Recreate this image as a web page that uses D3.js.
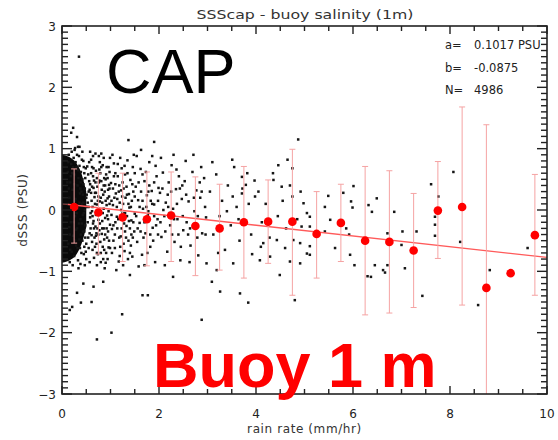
<!DOCTYPE html>
<html><head><meta charset="utf-8">
<script src="https://cdn.jsdelivr.net/npm/d3@7"></script>
<style>html,body{margin:0;padding:0;background:#fff}svg{display:block}</style>
</head><body>
<script>
// ---------- data ----------
const titleText = "SSScap - buoy salinity (1m)";
const xLabel = "rain rate (mm/hr)";
const yLabel = "dSSS (PSU)";
const xTicks = [0, 2, 4, 6, 8, 10];
const yTicks = [-3, -2, -1, 0, 1, 2, 3];
const statLabels = ["a=", "b=", "N="];
const statValues = ["0.1017 PSU", "-0.0875", "4986"];
const fitA = 0.1017, fitB = -0.0875;

const binCenters = [0.25,0.75,1.25,1.75,2.25,2.75,3.25,3.75,4.25,4.75,5.25,5.75,6.25,6.75,7.25,7.75,8.25,8.75,9.25,9.75];
const binMeans   = [0.05,-0.04,-0.12,-0.15,-0.09,-0.26,-0.30,-0.20,-0.19,-0.19,-0.39,-0.21,-0.50,-0.52,-0.66,-0.01,0.05,-1.27,-1.03,-0.41];
const errUpper   = [0.67,0.60,0.60,0.62,0.62,0.54,0.42,0.71,0.49,0.99,0.30,0.42,0.71,0.64,0.27,0.79,1.68,1.39,null,0.58];
const errLower   = [-0.54,-0.72,-0.84,-0.91,-0.84,-1.07,-0.98,-1.11,-0.87,-1.39,-1.11,-0.84,-1.71,-1.68,-1.59,-0.79,-1.55,-3.93,null,-1.39];

// solid black core of the scatter cloud (near zero rain)
const coreX      = [0, 0.1, 0.2, 0.3, 0.4, 0.5];
const coreTop    = [0.9, 0.88, 0.84, 0.76, 0.6, 0.3];
const coreBottom = [-0.86, -0.84, -0.8, -0.72, -0.56, -0.28];

// individual scatter points [rain rate, dSSS]
const scatterPts = [
[0.35,2.50],[0.23,1.34],[0.19,1.26],[0.31,1.19],[0.33,1.03],[0.27,1.01],[0.21,-1.58],[0.31,-1.35],[0.16,-1.63],[0.72,-2.11],[1.02,-2.0],
[1.37,1.14],[1.90,1.11],[1.63,0.98],[0.36,1.03],[3.51,0.82],[4.87,1.15],[4.65,0.82],[4.46,0.73],[4.75,0.68],[3.71,0.54],[3.71,0.27],[3.79,0.41],
[3.98,0.22],[4.36,0.49],[4.53,0.38],[4.75,0.22],[4.98,0.11],[5.05,-0.05],[4.94,-0.27],[5.05,-0.71],[4.80,-1.47],[4.49,-1.06],[3.84,-1.51],
[2.88,-1.79],[1.24,-1.70],[1.66,-1.39],[1.77,-1.39],[0.61,-1.50],[0.39,-1.51],[1.40,-1.06],[2.29,-1.09],[3.09,-1.17],[3.26,-1.33],[3.67,-1.36],
[0.44,-1.20],[0.65,-1.25],[0.85,-1.17],[2.98,-0.87],[3.19,-0.98],[3.53,-0.87],[4.08,-0.82],[4.29,-0.76],[4.70,-0.84],[4.91,-0.87],[4.15,-0.54],
[4.43,-0.49],[4.77,-0.49],[4.91,-0.54],
[8.07,0.62],[7.61,0.42],[7.76,0.22],[7.69,-0.11],[7.69,-0.24],[7.69,-0.42],[8.21,-0.52],[8.58,-1.55],[8.82,-0.98],[9.60,-0.62],[7.43,-1.40],
[7.02,-0.35],[6.85,-0.03],[6.71,-0.38],[6.71,-0.90],[6.66,-1.02],[6.62,-0.98],[6.45,-0.90],[6.37,-1.09],[6.30,-1.08],[6.39,-0.03],[6.49,0.19],
[6.32,0.08],[6.01,0.39],[5.96,0.14],[5.99,0.04],[5.86,-0.30],[5.92,-0.40],[5.94,-0.73],[6.03,-0.90],[5.63,-0.62],[5.49,0.23],[5.42,0.05],
[5.53,-0.16],[5.42,-0.35],[5.11,-0.27],[5.11,-0.11],[5.11,-0.59],[5.11,-0.73],[5.80,0.28],[7.00,-0.57],[7.07,-0.95],[7.31,-0.35],
[0.12,0.62],[0.13,-0.55],[0.14,0.9],[0.15,0.2],[0.16,-0.85],[0.17,0.45],[0.18,-0.2],[0.19,0.75],[0.2,-0.68],[0.21,0.05],[0.22,0.33],[0.23,-0.42],
[0.24,0.85],[0.25,-0.75],[0.26,0.58],[0.27,-0.1],[0.28,0.18],[0.29,-0.58],[0.3,0.7],[0.31,-0.3],[0.32,0.4],[0.33,-0.82],[0.34,0.02],[0.35,0.88],
[0.36,-0.48],[0.37,0.27],[0.38,-0.15],[0.39,0.62],[0.4,-0.7],[0.41,0.1],[0.42,0.5],[0.43,-0.35],[0.44,0.8],[0.45,-0.05],[0.46,-0.6],[0.47,0.35],
[0.48,-0.25],[0.49,0.68],[0.5,-0.8],[0.12,-0.1],[0.14,0.35],[0.16,-0.4],[0.18,0.55],[0.2,0.95],[0.22,-0.9],[0.24,-0.2],[0.26,0.15],[0.28,0.78],
[0.3,-0.05],[0.32,-0.62],[0.34,0.52],[0.36,0.72],[0.38,-0.88],[0.4,0.3],[0.42,-0.5],[0.44,0.12],[0.46,0.6],[0.48,-0.45],[0.5,0.2],[0.13,0.78],
[0.17,-0.65],[0.21,0.6],[0.25,0.42],[0.29,-0.32],[0.33,0.65],[0.37,-0.62],[0.41,0.82],[0.45,-0.72],[0.49,0.05],[0.15,-0.28],[0.19,0.08],[0.23,0.7],
[0.27,-0.5],[0.31,0.9],[0.35,-0.22],[0.39,0.45],[0.43,-0.08],[0.47,-0.9],[0.11,0.45],[0.26,0.98],[0.34,-0.95],[0.42,0.95],
[0.36,0.12],[0.38,0.35],[0.41,-0.22],[0.44,0.42],[0.46,-0.35],[0.48,0.52],[0.5,-0.55],[0.39,-0.4],[0.43,0.25],[0.47,0.0],[0.45,0.7],[0.49,-0.68],
[0.52,0.71],[0.55,-0.62],[0.57,0.33],[0.58,-0.12],[0.6,0.82],[0.61,-0.41],[0.63,0.05],[0.64,0.55],[0.66,-0.78],[0.67,0.21],[0.69,-0.27],[0.7,0.64],
[0.71,-0.55],[0.73,0.38],[0.74,-0.05],[0.76,0.88],[0.77,-0.33],[0.78,0.14],[0.8,-0.7],[0.81,0.47],[0.83,-0.18],[0.84,0.73],[0.86,0.02],[0.87,-0.48],
[0.88,0.3],[0.9,-0.86],[0.91,0.58],[0.93,-0.09],[0.94,0.19],[0.96,-0.61],[0.97,0.41],[0.99,-0.24],[0.53,0.12],[0.56,0.47],[0.59,-0.3],[0.62,-0.02],
[0.65,0.36],[0.68,-0.6],[0.72,0.09],[0.75,-0.16],[0.79,0.6],[0.82,-0.39],[0.85,0.25],[0.89,-0.13],[0.92,0.7],[0.95,-0.35],[0.98,0.1],[0.54,-0.45],
[0.6,0.6],[0.66,0.48],[0.7,-0.08],[0.74,-0.72],[0.78,0.78],[0.83,0.12],[0.87,0.52],[0.91,-0.7],[0.95,0.33],[0.99,0.85],[0.58,0.95],[0.72,-0.9],
[0.88,-0.95],[0.64,-0.22],[0.8,-0.02],[0.96,-0.02],[0.57,-0.85],[0.69,0.92],[0.85,-0.8],
[0.51,0.25],[0.53,-0.2],[0.56,0.78],[0.58,0.42],[0.61,0.15],[0.63,-0.65],[0.65,0.68],[0.67,-0.45],[0.7,0.28],[0.72,0.52],[0.75,-0.4],[0.77,0.66],
[0.79,-0.52],[0.82,0.33],[0.84,-0.6],[0.86,0.85],[0.89,0.4],[0.92,-0.3],[0.94,0.52],[0.97,-0.5],[0.55,0.05],[0.62,-0.52],[0.68,0.1],[0.73,-0.3],
[0.81,0.92],[0.9,0.15],[0.98,0.62],
[0.54,0.58],[0.57,-0.38],[0.6,0.28],[0.63,-0.1],[0.66,-0.3],[0.69,0.45],[0.72,-0.7],[0.75,0.22],[0.78,-0.22],[0.81,0.7],[0.84,-0.05],[0.87,-0.65],
[0.9,0.5],[0.93,-0.45],[0.96,0.7],[0.99,-0.62],[0.62,0.7],[0.7,-0.42],[0.76,0.45],[0.86,-0.3],[0.94,-0.8],[0.97,0.22],[0.64,0.88],[0.8,-0.85],
[0.52,0.05],[0.55,0.3],[0.59,-0.05],[0.62,0.38],[0.65,-0.18],[0.68,0.28],[0.71,-0.38],[0.74,0.15],[0.77,0.48],[0.8,0.2],[0.83,-0.3],[0.86,0.4],
[0.89,-0.4],[0.92,0.08],[0.95,-0.15],[0.98,0.35],
[1.01,0.44],[1.03,-0.31],[1.05,0.08],[1.07,0.76],[1.09,-0.62],[1.11,0.27],[1.13,-0.11],[1.15,0.55],[1.17,-0.84],[1.19,0.12],[1.21,-0.43],[1.23,0.68],
[1.25,-0.05],[1.27,0.35],[1.29,-0.67],[1.31,0.2],[1.33,-0.26],[1.35,0.81],[1.37,-0.5],[1.39,0.04],[1.41,0.49],[1.43,-0.17],[1.45,-0.76],[1.47,0.3],
[1.49,-0.35],[1.02,-0.08],[1.06,-0.5],[1.1,0.6],[1.14,-0.3],[1.18,0.4],[1.22,0.0],[1.26,-0.9],[1.3,0.58],[1.34,-0.1],[1.38,0.26],[1.42,-0.58],
[1.46,0.7],[1.04,0.9],[1.12,-0.98],[1.2,0.85],[1.28,-0.22],[1.36,-0.8],[1.44,0.15],[1.48,0.9],[1.08,0.2],[1.16,-0.15],[1.24,0.22],[1.32,-0.45],
[1.4,-0.3],[1.5,-0.06],
[1.05,0.35],[1.1,-0.2],[1.15,0.75],[1.2,-0.6],[1.25,0.45],[1.3,-0.05],[1.35,0.6],[1.4,-0.7],[1.45,0.42],[1.5,0.6],[1.03,-0.7],[1.13,0.05],
[1.23,-0.3],[1.33,0.38],[1.43,-0.4],[1.07,0.55],[1.17,0.3],[1.27,-0.55],[1.37,0.1],[1.47,-0.2],[1.09,-0.4],[1.19,-0.75],[1.29,0.72],
[1.02,0.15],[1.06,-0.25],[1.1,0.42],[1.14,0.18],[1.18,-0.45],[1.22,0.32],[1.26,0.1],[1.3,-0.35],[1.34,0.25],[1.38,-0.18],[1.42,0.05],[1.46,-0.45],
[1.5,0.22],
[1.52,0.38],[1.55,-0.52],[1.57,0.16],[1.6,-0.21],[1.62,0.67],[1.65,-0.73],[1.67,0.02],[1.7,0.47],[1.72,-0.38],[1.75,0.24],[1.77,-0.08],[1.8,0.78],
[1.82,-0.6],[1.85,0.31],[1.87,-0.29],[1.9,0.09],[1.92,-0.85],[1.95,0.55],[1.97,-0.15],[1.99,0.36],[1.54,0.88],[1.58,-0.92],[1.63,0.3],[1.68,-0.45],
[1.73,0.62],[1.78,-0.02],[1.83,0.15],[1.88,-0.5],[1.93,0.72],[1.98,-0.4],[1.6,0.05],[1.7,-0.9],[1.8,0.4],[1.9,-0.1],[1.56,-0.3],[1.66,0.58],
[1.76,-0.7],[1.86,0.88],
[1.53,-0.1],[1.58,0.45],[1.62,-0.35],[1.66,0.15],[1.7,-0.2],[1.74,0.05],[1.78,0.3],[1.82,-0.4],[1.86,0.1],[1.9,0.45],[1.94,-0.25],[1.98,0.15],
[2.02,0.28],[2.05,-0.44],[2.08,0.61],[2.11,-0.1],[2.14,0.12],[2.17,-0.68],[2.2,0.45],[2.23,-0.25],[2.26,0.73],[2.29,0.02],[2.32,-0.52],[2.35,0.34],
[2.38,-0.15],[2.41,0.55],[2.44,-0.82],[2.47,0.18],[2.5,-0.33],[2.04,0.85],[2.12,-0.9],[2.22,-0.05],[2.3,0.9],[2.4,-0.4],[2.48,0.4],[2.09,0.0],
[2.18,0.25],[2.27,-0.4],[2.36,0.66],[2.45,-0.6],
[2.03,-0.2],[2.07,0.35],[2.13,-0.35],[2.19,0.05],[2.25,0.3],[2.31,-0.15],[2.37,0.1],[2.43,0.35],[2.49,-0.1],
[2.53,0.47],[2.57,-0.2],[2.61,0.14],[2.65,-0.58],[2.69,0.62],[2.73,-0.02],[2.77,0.32],[2.81,-0.74],[2.85,0.2],[2.89,-0.38],[2.93,0.52],[2.97,-0.12],
[2.55,0.8],[2.63,-0.85],[2.71,0.9],[2.79,-0.45],[2.87,0.7],[2.95,0.05],[2.6,-0.4],[2.84,0.45],
[2.56,0.25],[2.64,-0.3],[2.72,0.2],[2.8,-0.1],[2.88,0.3],[2.96,-0.4],
[3.05,0.3],[3.12,-0.4],[3.18,0.58],[3.25,-0.1],[3.3,0.15],[3.36,-0.65],[3.42,0.4],[3.48,-0.25],[3.55,0.7],[3.6,0.05],[3.66,-0.5],[3.72,0.35],
[3.78,-0.2],[3.85,0.1],[3.92,-0.72],[3.97,0.48],[3.1,0.78],[3.22,-0.7],[3.4,-0.02],[3.52,0.22],[3.64,-0.15],[3.82,0.6],[3.9,-0.4],
[4.05,0.3],[4.12,-0.2],[4.2,0.1],[4.28,-0.45],[4.35,0.6],[4.45,-0.1],[4.55,0.15],[4.62,-0.3],[4.7,0.4],[4.85,-0.15],[4.92,0.3],[4.1,-0.6],[4.6,-0.62]
];

// ---------- layout ----------
const W = 558, H = 440;
const L = 62, R = 547, T = 26, B = 394;
const x = d3.scaleLinear().domain([0, 10]).range([L, R]);
const y = d3.scaleLinear().domain([-3, 3]).range([B, T]);

const svg = d3.select("body").append("svg").attr("width", W).attr("height", H);
svg.append("rect").attr("width", W).attr("height", H).attr("fill", "#fff");

svg.append("defs").append("clipPath").attr("id", "plotClip")
  .append("rect").attr("x", L).attr("y", T).attr("width", R - L).attr("height", B - T);

const plot = svg.append("g").attr("clip-path", "url(#plotClip)");

// solid core of dense cloud
const coreData = coreX.map((v, i) => ({x: v, t: coreTop[i], b: coreBottom[i]}));
plot.append("path").datum(coreData)
  .attr("d", d3.area().x(d => x(d.x)).y0(d => y(d.b)).y1(d => y(d.t)).curve(d3.curveMonotoneX))
  .attr("fill", "#0a0a0a");

// scatter points
plot.append("g").selectAll("rect").data(scatterPts).join("rect")
  .attr("x", d => x(d[0]) - 1.25).attr("y", d => y(d[1]) - 1.25)
  .attr("width", 2.5).attr("height", 2.5).attr("fill", "#151515");

// regression line
plot.append("line")
  .attr("x1", x(0)).attr("y1", y(fitA + fitB * 0))
  .attr("x2", x(10)).attr("y2", y(fitA + fitB * 10))
  .attr("stroke", "#ff5a5a").attr("stroke-width", 1.3);

// error bars
const bins = binCenters.map((c, i) => ({c, m: binMeans[i], hi: errUpper[i], lo: errLower[i]}));
const eb = plot.append("g").attr("stroke", "#f5a3a3").attr("stroke-width", 1);
bins.filter(d => d.hi !== null).forEach(d => {
  eb.append("line").attr("x1", x(d.c)).attr("x2", x(d.c)).attr("y1", y(d.hi)).attr("y2", y(d.lo));
  eb.append("line").attr("x1", x(d.c) - 3).attr("x2", x(d.c) + 3).attr("y1", y(d.hi)).attr("y2", y(d.hi));
  eb.append("line").attr("x1", x(d.c) - 3).attr("x2", x(d.c) + 3).attr("y1", y(d.lo)).attr("y2", y(d.lo));
});

// mean dots
plot.append("g").selectAll("circle").data(bins).join("circle")
  .attr("cx", d => x(d.c)).attr("cy", d => y(d.m)).attr("r", 4.3).attr("fill", "#ff0000");

// ---------- axes (IDL style, ticks inward) ----------
const axisColor = "#222";
const font = "DejaVu Sans, sans-serif";
const xMinor = d3.range(0, 10.01, 0.5).map(v => +v.toFixed(2));
const yMinor = d3.range(-3, 3.001, 0.1).map(v => +v.toFixed(2));
const isMajorX = v => Math.abs(v / 2 - Math.round(v / 2)) < 1e-6;
const isMajorY = v => Math.abs(v - Math.round(v)) < 1e-6;

const ax = svg.append("g").attr("stroke", axisColor).attr("stroke-width", 1.4);
ax.selectAll(".xb").data(xMinor).join("line").attr("class", "xb")
  .attr("x1", d => x(d)).attr("x2", d => x(d)).attr("y1", B).attr("y2", d => B - (isMajorX(d) ? 8 : 5));
ax.selectAll(".xt").data(xMinor).join("line").attr("class", "xt")
  .attr("x1", d => x(d)).attr("x2", d => x(d)).attr("y1", T).attr("y2", d => T + (isMajorX(d) ? 8 : 5));
ax.selectAll(".yl").data(yMinor).join("line").attr("class", "yl")
  .attr("y1", d => y(d)).attr("y2", d => y(d)).attr("x1", L).attr("x2", d => L + (isMajorY(d) ? 10 : 6));
ax.selectAll(".yr").data(yMinor).join("line").attr("class", "yr")
  .attr("y1", d => y(d)).attr("y2", d => y(d)).attr("x1", R).attr("x2", d => R - (isMajorY(d) ? 10 : 6));

// frame
svg.append("rect").attr("x", L).attr("y", T).attr("width", R - L).attr("height", B - T)
  .attr("fill", "none").attr("stroke", axisColor).attr("stroke-width", 1.6);

// tick labels
svg.append("g").selectAll("text").data(xTicks).join("text")
  .attr("x", d => x(d)).attr("y", 418).attr("text-anchor", "middle")
  .style("font-family", font).style("font-size", "12px").attr("fill", "#222")
  .text(d => d);
svg.append("g").selectAll("text").data(yTicks).join("text")
  .attr("x", 56).attr("y", d => y(d) + 4.5).attr("text-anchor", "end")
  .style("font-family", font).style("font-size", "12px").attr("fill", "#222")
  .text(d => d < 0 ? "\u2212" + Math.abs(d) : d);

// ---------- texts ----------
svg.append("text").attr("x", 305).attr("y", 19).attr("text-anchor", "middle")
  .style("font-family", font).style("font-size", "13px").attr("fill", "#333")
  .attr("textLength", 217).attr("lengthAdjust", "spacingAndGlyphs")
  .text(titleText);
svg.append("text").attr("x", (L + R) / 2).attr("y", 433).attr("text-anchor", "middle")
  .style("font-family", font).style("font-size", "12px").attr("fill", "#333").attr("letter-spacing", "0.6")
  .text(xLabel);
svg.append("text").attr("transform", `translate(27,${(T + B) / 2}) rotate(-90)`).attr("text-anchor", "middle")
  .style("font-family", font).style("font-size", "12px").attr("fill", "#333").attr("letter-spacing", "0.6")
  .text(yLabel);

const statG = svg.append("g").style("font-family", font).style("font-size", "11.5px").attr("fill", "#222");
statLabels.forEach((lab, i) => {
  statG.append("text").attr("x", 445).attr("y", 49 + i * 22.5).text(lab);
  statG.append("text").attr("x", 474).attr("y", 49 + i * 22.5).text(statValues[i]);
});

svg.append("text").attr("x", 106).attr("y", 93)
  .style("font-family", "Liberation Sans, Arial, sans-serif").style("font-size", "63px").attr("fill", "#000")
  .text("CAP");
svg.append("text").attr("x", 153).attr("y", 387)
  .style("font-family", "Liberation Sans, Arial, sans-serif").style("font-size", "63px").style("font-weight", "bold").attr("fill", "#ff0000")
  .text("Buoy 1 m");
</script>
</body></html>
